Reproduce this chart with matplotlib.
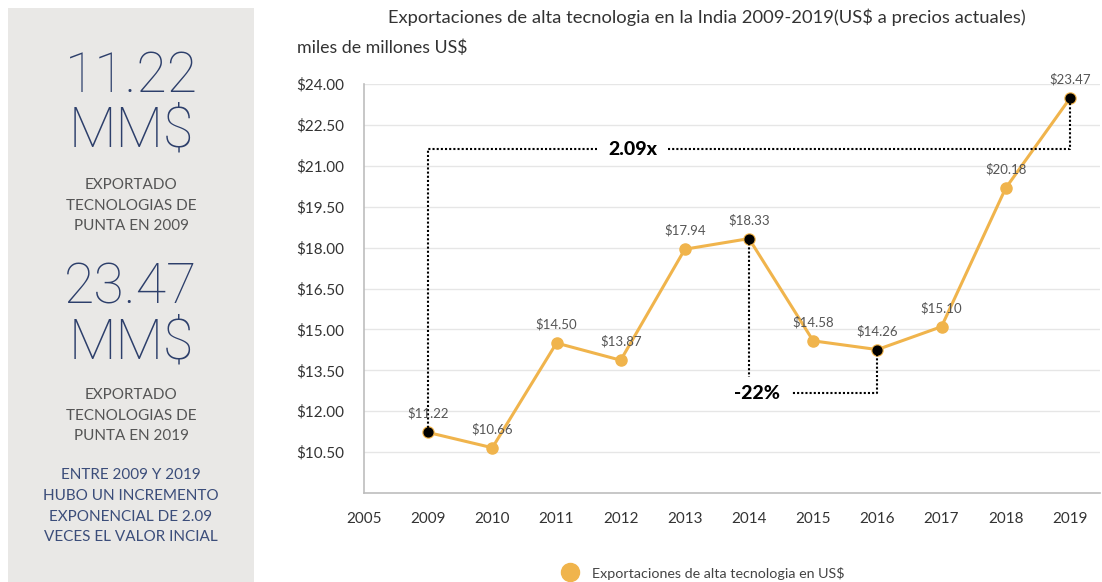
import matplotlib
matplotlib.use("Agg")
import matplotlib.pyplot as plt
from matplotlib.patches import Rectangle
from matplotlib.lines import Line2D

# Data: high-technology exports of India, billions of current US$
years = ["2005", "2009", "2010", "2011", "2012", "2013", "2014", "2015", "2016", "2017", "2018", "2019"]
data_years = ["2009", "2010", "2011", "2012", "2013", "2014", "2015", "2016", "2017", "2018", "2019"]
exports = [11.22, 10.66, 14.50, 13.87, 17.94, 18.33, 14.58, 14.26, 15.10, 20.18, 23.47]
y_ticks = [10.50, 12.00, 13.50, 15.00, 16.50, 18.00, 19.50, 21.00, 22.50, 24.00]

ORANGE = "#f0b44c"
NAVY = "#2d3f6b"
GREY_TXT = "#555555"
FONT = "Lato"
BIG_FONT = "Roboto"

fig = plt.figure(figsize=(11.02, 5.82), dpi=100)
fig.patch.set_facecolor("white")

# Left summary panel
fig.patches.append(Rectangle((8 / 1102, 0), 246 / 1102, 1 - 8 / 582,
                             transform=fig.transFigure, facecolor="#e9e8e6",
                             edgecolor="none", zorder=0))
cx = 131 / 1102


def fy(py):
    return 1 - py / 582


big = dict(ha="center", va="center", fontsize=40, color=NAVY, family=BIG_FONT,
           fontweight="light")
fig.text(cx, fy(76), f"{exports[0]:.2f}", **big)
fig.text(cx, fy(131), "MM$", **big)
for i, line in enumerate(["EXPORTADO", "TECNOLOGIAS DE", "PUNTA EN 2009"]):
    fig.text(cx, fy(185 + i * 20.5), line, ha="center", va="center", fontsize=11,
             color=GREY_TXT, family=FONT)
fig.text(cx, fy(288), f"{exports[-1]:.2f}", **big)
fig.text(cx, fy(343), "MM$", **big)
for i, line in enumerate(["EXPORTADO", "TECNOLOGIAS DE", "PUNTA EN 2019"]):
    fig.text(cx, fy(395 + i * 20.5), line, ha="center", va="center", fontsize=11,
             color=GREY_TXT, family=FONT)
for i, line in enumerate(["ENTRE 2009 Y 2019", "HUBO UN INCREMENTO",
                          "EXPONENCIAL DE 2.09", "VECES EL VALOR INCIAL"]):
    fig.text(cx, fy(475 + i * 20.8), line, ha="center", va="center", fontsize=11,
             color="#3b4d7a", family=FONT)

# Main chart
ax = fig.add_axes([364 / 1102, 1 - 493 / 582, (1100 - 364) / 1102, (493 - 84) / 582])
pos = {y: i for i, y in enumerate(years)}
xs = [pos[y] for y in data_years]

ax.plot(xs, exports, color=ORANGE, lw=2.2, marker="o", markersize=8, zorder=3)
for x, v in zip(xs, exports):
    ax.annotate(f"${v:.2f}", (x, v), xytext=(0, 9), textcoords="offset points",
                ha="center", va="bottom", fontsize=9.5, color="#555555", family=FONT,
                zorder=5)

ax.set_xlim(0, 11.47)
ax.set_ylim(9.0, 24.0)
ax.set_xticks(range(len(years)))
ax.set_xticklabels(years)
ax.set_yticks(y_ticks)
ax.set_yticklabels([f"${t:.2f}" for t in y_ticks])
ax.tick_params(length=0, labelsize=11, colors="#333333", pad=14)
ax.tick_params(axis="x", pad=14)
for lab in ax.get_xticklabels() + ax.get_yticklabels():
    lab.set_family(FONT)
ax.grid(axis="y", color="#e6e6e6", lw=1)
ax.set_axisbelow(True)
for s in ["top", "right"]:
    ax.spines[s].set_visible(False)
for s in ["left", "bottom"]:
    ax.spines[s].set_color("#bdbdbd")
    ax.spines[s].set_linewidth(1.2)

# Annotation: growth 2009 -> 2019
dot = dict(color="black", lw=1.5, ls=(0, (1, 1)), zorder=4)
i09, i14, i16, i19 = pos["2009"], pos["2014"], pos["2016"], pos["2019"]
v09, v14, v16, v19 = exports[0], exports[5], exports[7], exports[-1]
y_top = 21.6
ax.plot([i09, i09, 3.63], [v09, y_top, y_top], **dot)
ax.plot([4.74, i19, i19], [y_top, y_top, v19], **dot)
ax.text(4.19, y_top, f"{v19 / v09:.2f}x", ha="center", va="center", fontsize=14,
        fontweight="black", family=FONT, color="black")
ax.scatter([i09, i14, i16, i19], [v09, v14, v16, v19], color="black", s=40, zorder=6)

# Annotation: drop 2014 -> 2016
y_low = 12.66
ax.plot([i14, i14], [v14, 13.24], **dot)
ax.plot([i16, i16, 6.67], [v16, y_low, y_low], **dot)
ax.text(6.12, y_low, f"{(v16 / v14 - 1) * 100:.0f}%", ha="center", va="center",
        fontsize=14, fontweight="black", family=FONT, color="black")

# Titles
fig.text(707 / 1102, fy(17), "Exportaciones de alta tecnologia en la India 2009-2019(US$ a precios actuales)",
         ha="center", va="center", fontsize=13.2, color="#333333", family=FONT)
fig.text(297 / 1102, fy(48), "miles de millones US$", ha="left", va="center",
         fontsize=12.8, color="#333333", family=FONT)

# Legend
handle = Line2D([], [], color=ORANGE, marker="o", markersize=13, lw=0)
fig.legend([handle], ["Exportaciones de alta tecnologia en US$"], loc="center",
           bbox_to_anchor=(700 / 1102, fy(573)), frameon=False,
           prop={"family": FONT, "size": 10.3}, handletextpad=0.5, labelcolor="#444444")

fig.savefig("out.png", dpi=100)
